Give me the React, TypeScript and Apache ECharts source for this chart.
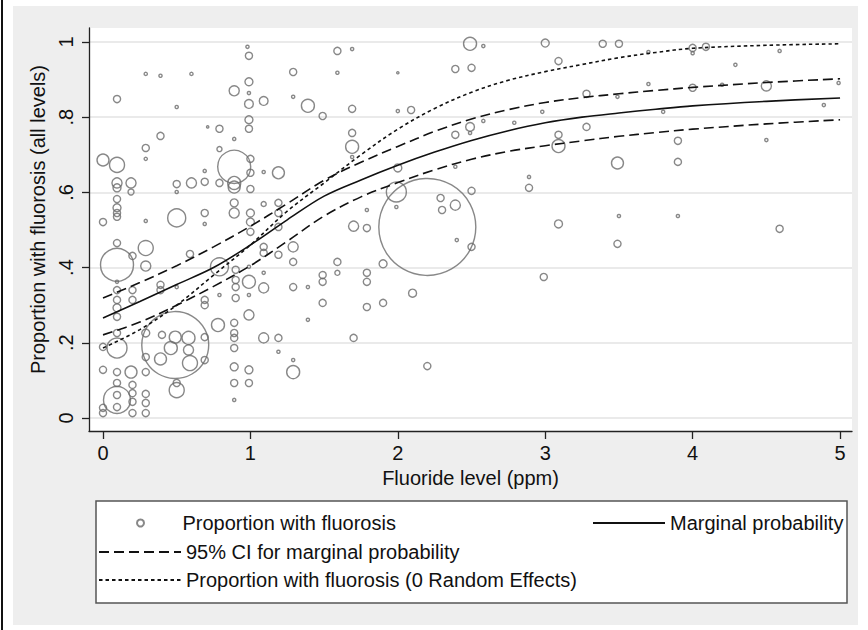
import React, { useEffect, useRef } from "react";
import * as echarts from "echarts";

// ---- Data ----
const fluorideX = [
  0.98, 0.99, 1.59, 0.29, 0.39, 0.6, 1.29, 1.59, 0.99, 0.89, 0.99, 0.095, 0.99, 1.09, 1.29, 1.39, 1.49, 0.5, 0.99, 0.99,
  0.79, 0.71, 0.39, 0.89, 0.29, 0.29, 0.79, 0, 0.095, 0.89, 1.0, 1.0, 0.69, 1.09, 1.19, 0.095, 0.095, 0.19, 0.19, 0.5,
  0.5, 0.6, 0.69, 0.79, 0.89, 0.89, 1.0, 0.095, 0.095, 0.095, 0.095, 0, 0.29, 0.5, 0.69, 0.69, 0.89, 0.89, 1.0, 1.0,
  1.0, 1.09, 1.19, 1.19, 1.19, 0.095, 0.29, 0.095, 0.2, 0.29, 0.59, 0.095, 0.095, 0.2, 0.2, 0.095, 0.095, 0.095, 0.39, 0.39,
  0.5, 0.69, 0.69, 0.79, 0.79, 0.9, 0.9, 0.9, 0.9, 0.99, 0.99, 0.99, 0.99, 1.09, 1.09, 1.09, 1.09, 1.19, 1.29, 1.29,
  1.29, 1.39, 1.39, 1.49, 1.49, 1.59, 1.59, 1.49, 1.29, 1.29, 1.19, 1.19, 1.09, 0.78, 0.89, 0.89, 0.89, 0.89, 0.89, 0.89,
  0.89, 0.99, 0.99, 0.49, 0.49, 0.58, 0.46, 0.58, 0.59, 0.39, 0.4, 0.29, 0.29, 0.29, 0.69, 0.69, 0.5, 0.5, 0.095, 0.095,
  0.095, 0, 0, 0.19, 0.095, 0.095, 0.095, 0.095, 0.2, 0.2, 0.2, 0.2, 0.29, 0.29, 0.29, 0, 0, 2.49, 2.58, 3.0,
  1.69, 2.39, 2.5, 2.0, 3.09, 1.69, 2.0, 2.09, 1.69, 1.69, 1.69, 2.39, 2.49, 2.49, 2.58, 2.79, 2.98, 3.09, 3.09, 3.28,
  3.28, 2.0, 2.39, 1.99, 1.99, 1.79, 2.2, 2.29, 2.3, 2.39, 2.5, 1.7, 1.79, 2.89, 2.89, 3.09, 2.4, 2.5, 1.79, 1.79,
  1.9, 2.1, 1.79, 1.9, 1.7, 2.2, 2.99, 3.39, 3.5, 3.7, 4.0, 4.0, 4.09, 4.59, 4.29, 3.49, 3.7, 4.0, 4.2, 4.5,
  4.99, 3.8, 4.89, 3.9, 3.49, 3.9, 4.5, 3.5, 3.9, 3.49, 4.59,
];
const proportionY = [
  0.987, 0.963, 0.976, 0.915, 0.91, 0.915, 0.92, 0.918, 0.894, 0.87, 0.864, 0.848, 0.835, 0.843, 0.854, 0.83, 0.803, 0.827, 0.793, 0.769,
  0.769, 0.774, 0.75, 0.742, 0.718, 0.689, 0.715, 0.686, 0.673, 0.668, 0.689, 0.652, 0.657, 0.654, 0.652, 0.625, 0.612, 0.625, 0.601, 0.622,
  0.601, 0.625, 0.628, 0.625, 0.625, 0.614, 0.609, 0.582, 0.559, 0.545, 0.535, 0.521, 0.524, 0.532, 0.545, 0.516, 0.572, 0.545, 0.545, 0.521,
  0.495, 0.569, 0.572, 0.545, 0.508, 0.465, 0.452, 0.407, 0.431, 0.404, 0.436, 0.362, 0.34, 0.34, 0.314, 0.314, 0.293, 0.269, 0.354, 0.34,
  0.348, 0.314, 0.3, 0.327, 0.402, 0.394, 0.367, 0.348, 0.319, 0.402, 0.362, 0.327, 0.274, 0.346, 0.386, 0.455, 0.439, 0.434, 0.455, 0.415,
  0.348, 0.348, 0.261, 0.38, 0.362, 0.415, 0.386, 0.306, 0.122, 0.154, 0.213, 0.176, 0.213, 0.247, 0.253, 0.226, 0.213, 0.186, 0.136, 0.093,
  0.048, 0.128, 0.093, 0.194, 0.215, 0.213, 0.186, 0.181, 0.146, 0.157, 0.221, 0.226, 0.162, 0.122, 0.215, 0.154, 0.074, 0.093, 0.186, 0.226,
  0.122, 0.189, 0.128, 0.122, 0.048, 0.093, 0.061, 0.029, 0.088, 0.066, 0.043, 0.013, 0.064, 0.04, 0.013, 0.027, 0.013, 0.995, 0.989, 0.997,
  0.981, 0.928, 0.931, 0.918, 0.949, 0.822, 0.816, 0.819, 0.758, 0.721, 0.694, 0.753, 0.774, 0.758, 0.79, 0.785, 0.814, 0.753, 0.723, 0.774,
  0.862, 0.665, 0.668, 0.601, 0.561, 0.553, 0.508, 0.585, 0.553, 0.566, 0.604, 0.51, 0.505, 0.641, 0.612, 0.516, 0.473, 0.455, 0.386, 0.362,
  0.41, 0.332, 0.295, 0.306, 0.213, 0.138, 0.375, 0.995, 0.995, 0.973, 0.984, 0.97, 0.987, 0.976, 0.939, 0.854, 0.888, 0.878, 0.886, 0.883,
  0.891, 0.814, 0.832, 0.737, 0.678, 0.681, 0.739, 0.537, 0.537, 0.463, 0.503,
];
const clusterWeight = [
  4, 20, 20, 4, 4, 4, 20, 4, 25, 40, 4, 20, 30, 30, 4, 66, 20, 4, 25, 20,
  20, 2, 20, 4, 20, 4, 10, 56, 88, 425, 20, 20, 4, 4, 56, 40, 25, 40, 14, 20,
  4, 40, 20, 20, 66, 56, 20, 20, 25, 20, 20, 20, 4, 127, 20, 4, 25, 40, 25, 25,
  20, 10, 20, 20, 20, 20, 88, 425, 20, 40, 20, 4, 20, 20, 20, 20, 25, 20, 20, 20,
  4, 20, 20, 4, 127, 20, 20, 20, 20, 4, 66, 4, 40, 40, 4, 20, 20, 20, 40, 20,
  20, 4, 4, 20, 20, 20, 10, 20, 66, 4, 20, 4, 40, 66, 20, 20, 20, 20, 25, 20,
  4, 25, 20, 1750, 56, 66, 66, 40, 88, 56, 20, 25, 20, 20, 20, 20, 88, 20, 156, 20,
  20, 20, 20, 56, 285, 20, 20, 20, 20, 20, 20, 20, 20, 20, 20, 20, 20, 66, 4, 25,
  4, 20, 20, 2, 20, 20, 4, 20, 20, 66, 4, 20, 30, 4, 4, 4, 4, 20, 66, 20,
  20, 25, 4, 156, 4, 4, 3675, 20, 20, 40, 20, 40, 20, 4, 20, 25, 4, 20, 20, 20,
  25, 25, 20, 20, 20, 20, 20, 20, 20, 4, 20, 4, 20, 4, 4, 4, 4, 20, 4, 40,
  4, 4, 4, 20, 56, 20, 4, 4, 4, 20, 20,
];

const curveX = [0, 0.25, 0.5, 0.75, 1, 1.25, 1.5, 1.75, 2, 2.25, 2.5, 2.75, 3, 3.25, 3.5, 3.75, 4, 4.5, 5];
const marginalProb = [0.266, 0.31, 0.355, 0.40, 0.46, 0.527, 0.59, 0.633, 0.672, 0.707, 0.738, 0.764, 0.785, 0.80, 0.811, 0.821, 0.83, 0.842, 0.851];
const ciUpper = [0.319, 0.36, 0.405, 0.455, 0.51, 0.57, 0.632, 0.68, 0.722, 0.762, 0.795, 0.82, 0.839, 0.852, 0.862, 0.871, 0.879, 0.892, 0.902];
const ciLower = [0.221, 0.255, 0.30, 0.35, 0.405, 0.47, 0.537, 0.588, 0.626, 0.66, 0.688, 0.709, 0.724, 0.737, 0.749, 0.759, 0.768, 0.782, 0.793];
const noRandomEffects = [0.186, 0.235, 0.30, 0.38, 0.46, 0.55, 0.625, 0.70, 0.768, 0.823, 0.866, 0.898, 0.921, 0.94, 0.958, 0.972, 0.983, 0.991, 0.995];

const xTicks = [0, 1, 2, 3, 4, 5];
const yTicks = [0, 0.2, 0.4, 0.6, 0.8, 1];

const NAME_SCATTER = "Proportion with fluorosis";
const NAME_MARGINAL = "Marginal probability";
const NAME_CI = "95% CI for marginal probability";
const NAME_NORE = "Proportion with fluorosis (0 Random Effects)";

const FONT = "'Liberation Sans', Arial, Helvetica, sans-serif";

export default function App() {
  const ref = useRef<HTMLDivElement>(null);
  useEffect(() => {
    if (!ref.current) return;
    const chart = echarts.init(ref.current, null, { renderer: "svg" });
    const scatterData = fluorideX.map((x, i) => [x, proportionY[i], clusterWeight[i]]);
    const curve = (ys: number[]) => curveX.map((x, i) => [x, ys[i]]);
    const lineBase = {
      type: "line" as const,
      symbol: "none",
      smooth: 0.35,
      silent: true,
      z: 5,
      itemStyle: { color: "#111" },
    };
    const legendBase = {
      orient: "horizontal" as const,
      padding: 0,
      selectedMode: false,
      textStyle: { fontSize: 20, color: "#111", fontFamily: FONT },
    };
    const lineLegend = { ...legendBase, itemStyle: { opacity: 0 } };
    chart.setOption({
      animation: false,
      backgroundColor: "#ffffff",
      textStyle: { fontFamily: FONT },
      graphic: [
        { type: "rect", z: -100, shape: { x: 13, y: 6, width: 845, height: 619 }, style: { fill: "#eeeeee" } },
        { type: "rect", z: -99, shape: { x: 1, y: 0, width: 2, height: 630 }, style: { fill: "#111" } },
        {
          type: "rect",
          z: 1,
          shape: { x: 96, y: 501, width: 751, height: 102 },
          style: { fill: "#ffffff", stroke: "#555", lineWidth: 1.5 },
        },
      ],
      grid: {
        left: 89,
        right: 16,
        top: 28,
        bottom: 199,
        show: true,
        backgroundColor: "#ffffff",
        borderWidth: 0,
      },
      xAxis: {
        type: "value",
        min: -0.095,
        max: 5.081,
        name: "Fluoride level (ppm)",
        nameLocation: "middle",
        nameGap: 37,
        nameTextStyle: { fontSize: 20, color: "#111", fontFamily: FONT },
        axisLine: { show: true, onZero: false, lineStyle: { color: "#222", width: 1.3 } },
        axisTick: { show: true, length: 8, customValues: xTicks, lineStyle: { color: "#222", width: 1.3 } },
        axisLabel: { customValues: xTicks, fontSize: 20, color: "#111", margin: 12, fontFamily: FONT },
        splitLine: { show: false },
      },
      yAxis: {
        type: "value",
        min: -0.0346,
        max: 1.037,
        name: "Proportion with fluorosis (all levels)",
        nameLocation: "middle",
        nameGap: 25,
        nameTextStyle: { fontSize: 20, color: "#111", fontFamily: FONT, padding: [0, 0, 0, 20] },
        axisLine: { show: true, onZero: false, lineStyle: { color: "#222", width: 1.3 } },
        axisTick: { show: true, length: 7, customValues: yTicks, lineStyle: { color: "#222", width: 1.3 } },
        axisLabel: {
          customValues: yTicks,
          rotate: 90,
          fontSize: 20,
          color: "#111",
          margin: 13,
          fontFamily: FONT,
          formatter: (v: number) => (v === 0 ? "0" : v === 1 ? "1" : String(Math.round(v * 10) / 10).replace(/^0\./, ".")),
        },
        splitLine: { show: true, lineStyle: { color: "#e3e3e3", width: 1.5 } },
      },
      legend: [
        {
          ...legendBase,
          data: [{ name: NAME_SCATTER, icon: "circle" }],
          left: 136,
          top: 513,
          itemWidth: 14,
          itemHeight: 7,
          textStyle: { ...legendBase.textStyle, padding: [0, 0, 0, 30] },
        },
        { ...lineLegend, data: [NAME_MARGINAL], left: 592, top: 513, itemWidth: 72, itemHeight: 14 },
        { ...lineLegend, data: [NAME_CI], left: 98, top: 542, itemWidth: 82, itemHeight: 14 },
        { ...lineLegend, data: [NAME_NORE], left: 98, top: 570, itemWidth: 82, itemHeight: 14 },
      ],
      series: [
        {
          name: NAME_SCATTER,
          type: "scatter",
          symbol: "circle",
          data: scatterData,
          symbolSize: (v: number[]) => 1.6 * Math.sqrt(v[2]),
          itemStyle: { color: "rgba(0,0,0,0)", borderColor: "#6a6a6a", borderWidth: 1.4 },
          silent: true,
          z: 3,
        },
        { ...lineBase, name: NAME_MARGINAL, data: curve(marginalProb), lineStyle: { color: "#111", width: 1.6, type: "solid" } },
        { ...lineBase, name: NAME_CI, data: curve(ciUpper), lineStyle: { color: "#111", width: 1.6, type: [10, 5] } },
        { ...lineBase, name: NAME_CI, data: curve(ciLower), lineStyle: { color: "#111", width: 1.6, type: [10, 5] } },
        { ...lineBase, name: NAME_NORE, data: curve(noRandomEffects), lineStyle: { color: "#111", width: 1.6, type: [3.5, 3] } },
      ],
    });
    return () => chart.dispose();
  }, []);
  return (
    <div
      ref={ref}
      style={{ position: "fixed", left: 0, top: 0, width: 868, height: 630 }}
    />
  );
}
